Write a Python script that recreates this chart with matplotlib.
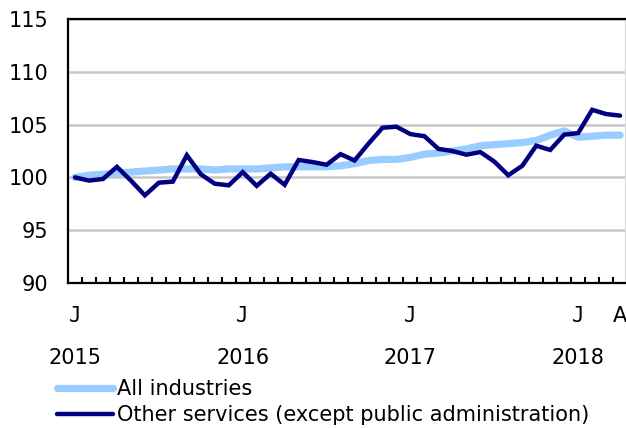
import matplotlib.pyplot as plt
import matplotlib.transforms as mtransforms
import numpy as np

# monthly index, Jan 2015 .. Apr 2018
all_industries = [
    100.0, 100.2, 100.3, 100.4, 100.5, 100.6, 100.7, 100.8, 100.8, 100.8, 100.7, 100.8,
    100.8, 100.8, 100.9, 101.0, 101.0, 101.0, 101.0, 101.1, 101.3, 101.6, 101.7, 101.7,
    101.9, 102.2, 102.3, 102.5, 102.7, 103.0, 103.1, 103.2, 103.3, 103.5, 104.0, 104.4,
    103.8, 103.9, 104.0, 104.0,
]
other_services = [
    100.0, 99.7, 99.85, 101.0, 99.7, 98.3, 99.5, 99.6, 102.1, 100.3, 99.4, 99.25,
    100.5, 99.2, 100.35, 99.3, 101.65, 101.45, 101.2, 102.2, 101.6, 103.2, 104.7, 104.8,
    104.1, 103.9, 102.7, 102.5, 102.15, 102.4, 101.5, 100.2, 101.1, 103.0, 102.6, 104.05,
    104.2, 106.4, 106.0, 105.85,
]
month_labels = ["J", "J", "J", "J", "A"]
month_pos = [0, 12, 24, 36, 39]
year_labels = ["2015", "2016", "2017", "2018"]
year_pos = [0, 12, 24, 36]
y_ticks = [90, 95, 100, 105, 110, 115]

LIGHT = "#99ccff"
DARK = "#000080"
FS = 15

plt.rcParams["font.family"] = ["DejaVu Sans"]

fig = plt.figure(figsize=(6.26, 4.28), dpi=100)
ax = fig.add_axes([68 / 626, 1 - 283 / 428, (625 - 68) / 626, (283 - 19) / 428])

x = np.arange(len(all_industries))
l1, = ax.plot(x, all_industries, color=LIGHT, lw=5.2, solid_capstyle="round",
              solid_joinstyle="round", label="All industries", zorder=3)
l2, = ax.plot(x, other_services, color=DARK, lw=3.2, solid_capstyle="round",
              solid_joinstyle="miter", label="Other services (except public administration)",
              zorder=4)

ax.set_xlim(-0.5, 39.35)
ax.set_ylim(90, 115)
ax.set_yticks(y_ticks)
ax.set_yticklabels([str(v) for v in y_ticks], fontsize=FS)
ax.tick_params(axis="y", length=0, pad=14)
ax.grid(axis="y", color="#c8c8c8", lw=1.8)
ax.set_axisbelow(True)

ax.set_xticks(np.arange(0.5, 39.5, 1.0))
ax.tick_params(axis="x", direction="in", length=4.5, width=1.5, labelbottom=False)

for side in ["left", "bottom", "top"]:
    ax.spines[side].set_linewidth(1.6)
    ax.spines[side].set_color("black")
ax.spines["right"].set_color("#d9d9d9")
ax.spines["right"].set_linewidth(0.8)

trans = mtransforms.blended_transform_factory(ax.transData, fig.transFigure)
for p, lab in zip(month_pos, month_labels):
    ax.text(p, 1 - 316 / 428, lab, transform=trans, ha="center", va="center",
            fontsize=FS, family="DejaVu Sans Mono" if lab == "J" else "DejaVu Sans",
            clip_on=False)
for p, lab in zip(year_pos, year_labels):
    ax.text(p, 1 - 358 / 428, lab, transform=trans, ha="center", va="center",
            fontsize=FS, clip_on=False)

fig.legend(handles=[l1, l2], loc="upper left", bbox_to_anchor=(57 / 626, 1 - 379 / 428),
           frameon=False, fontsize=FS, handlelength=2.7, handletextpad=0.19,
           labelspacing=0.28, borderpad=0, borderaxespad=0)

fig.savefig("out.png", dpi=100)
